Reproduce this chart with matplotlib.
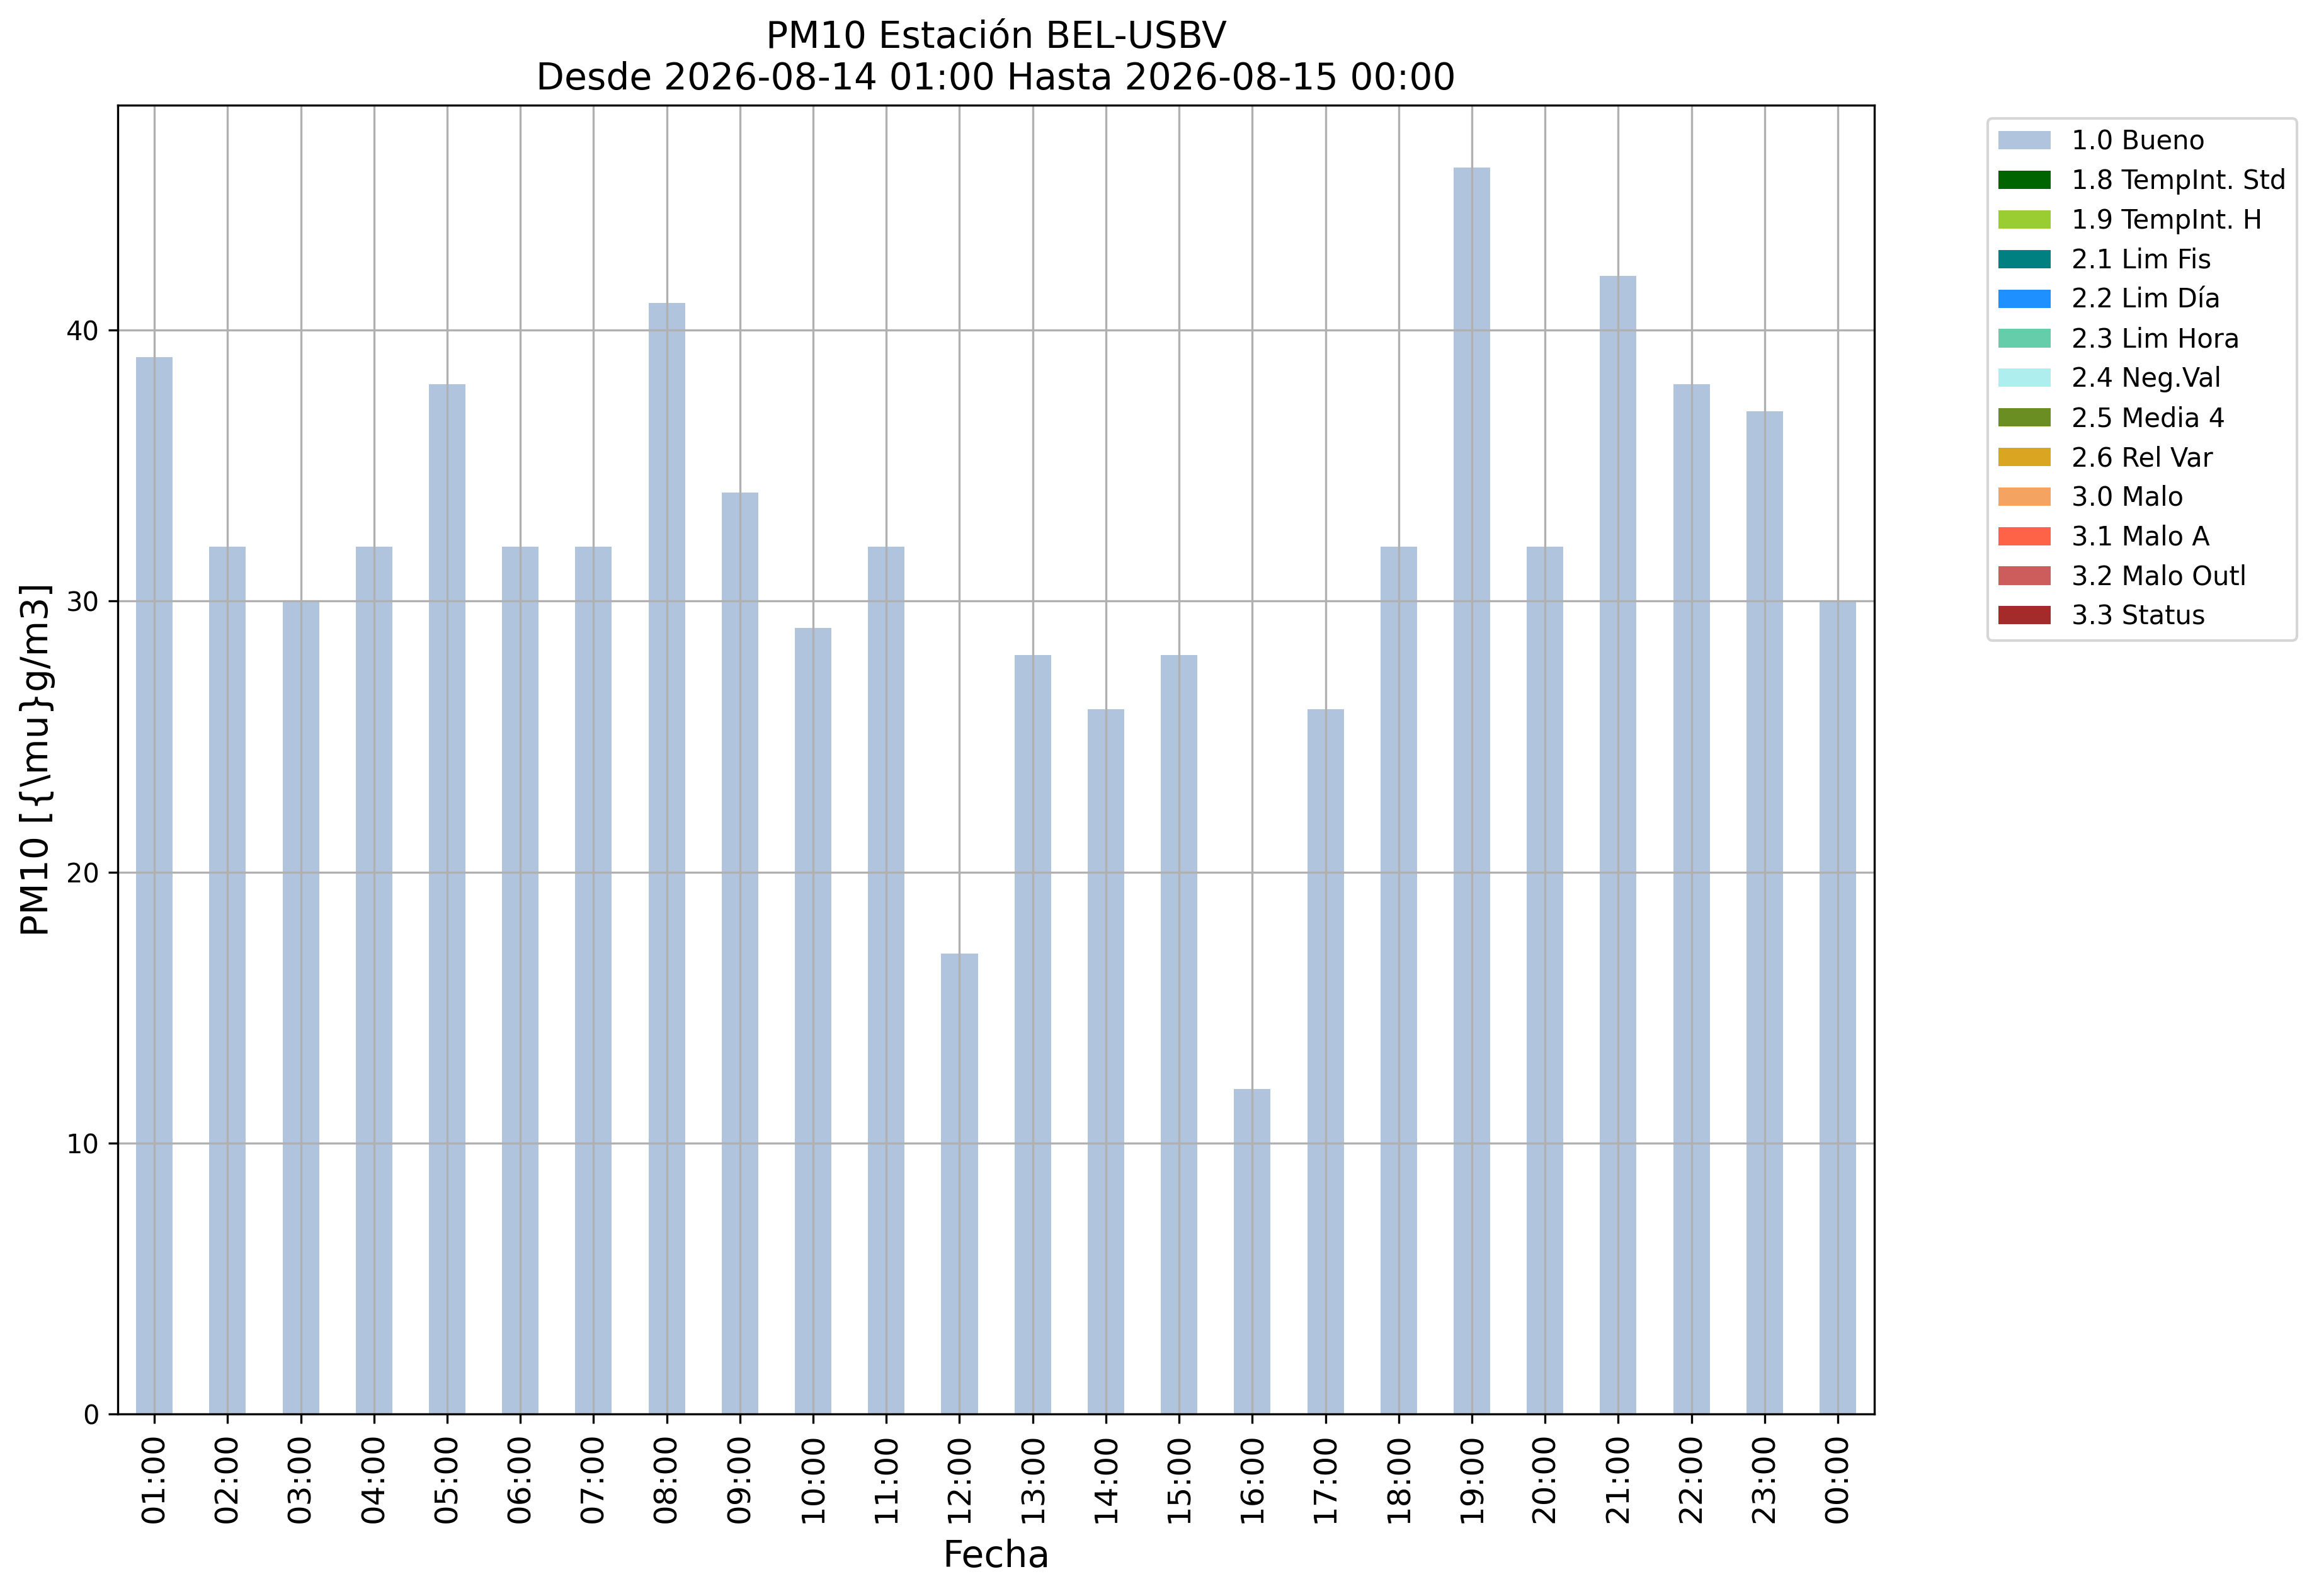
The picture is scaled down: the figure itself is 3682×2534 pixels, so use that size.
import matplotlib
matplotlib.use("Agg")
import matplotlib.pyplot as plt
import pandas as pd

# horas y valores de PM10 (todas las horas con flag 1.0 Bueno)
horas = ['01:00', '02:00', '03:00', '04:00', '05:00', '06:00', '07:00', '08:00',
         '09:00', '10:00', '11:00', '12:00', '13:00', '14:00', '15:00', '16:00',
         '17:00', '18:00', '19:00', '20:00', '21:00', '22:00', '23:00', '00:00']
pm10 = [39, 32, 30, 32, 38, 32, 32, 41, 34, 29, 32, 17,
        28, 26, 28, 12, 26, 32, 46, 32, 42, 38, 37, 30]

flags = ['1.0 Bueno', '1.8 TempInt. Std', '1.9 TempInt. H', '2.1 Lim Fis',
         '2.2 Lim Día', '2.3 Lim Hora', '2.4 Neg.Val', '2.5 Media 4',
         '2.6 Rel Var', '3.0 Malo', '3.1 Malo A', '3.2 Malo Outl', '3.3 Status']
colores = ['lightsteelblue', 'darkgreen', 'yellowgreen', 'teal', 'dodgerblue',
           'mediumaquamarine', 'paleturquoise', 'olivedrab', 'goldenrod',
           'sandybrown', 'tomato', 'indianred', 'brown']

# tabla apilada: solo la columna "Bueno" tiene datos
tabla = pd.DataFrame(0.0, index=horas, columns=flags)
tabla[flags[0]] = pm10

fig = plt.figure(figsize=(3682 / 300, 2534 / 300), dpi=300)
ax = fig.add_axes([0.0508, 0.1140, 0.8083 - 0.0508, 0.9341 - 0.1140])

tabla.plot(kind='bar', stacked=True, color=colores, ax=ax, width=0.5, legend=False)

ax.grid(True)
ax.set_title('PM10 Estación BEL-USBV\nDesde 2026-08-14 01:00 Hasta 2026-08-15 00:00', fontsize=14)
ax.set_xlabel('Fecha', fontsize=14, labelpad=6)
ax.set_ylabel(r'PM10 [{\mu}g/m3]', fontsize=14)
ax.tick_params(axis='x', labelsize=12, labelrotation=90)
ax.tick_params(axis='y', labelsize=10)
ax.legend(bbox_to_anchor=(1.057, 1), loc='upper left', fontsize=10)

fig.savefig('out.png', dpi=300)
